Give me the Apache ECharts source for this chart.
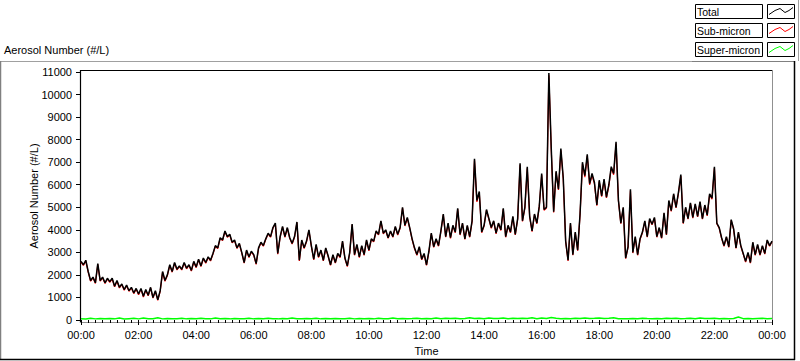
<!DOCTYPE html>
<html>
<head>
<meta charset="utf-8">
<script src="https://cdn.jsdelivr.net/npm/echarts@6/dist/echarts.min.js"></script>
<style>
html,body{margin:0;padding:0;background:#fff;}
#chart{width:800px;height:361px;}
</style>
</head>
<body>
<div id="chart"></div>
<script>
// Sampling: Total & Sub-micron every 5 minutes, Super-micron every 10 minutes (00:00 .. 24:00)
const totalStepMin = 5;
const superStepMin = 10;
const xTickLabels = ['00:00','02:00','04:00','06:00','08:00','10:00','12:00','14:00','16:00','18:00','20:00','22:00','00:00'];
const seriesNames = ['Total','Sub-micron','Super-micron'];

const totalValues = [
2600,2450,2650,2150,1750,1900,1650,2500,1750,1900,1650,1850,
1700,1850,1500,1750,1450,1600,1350,1550,1300,1450,1200,1400,
1150,1400,1050,1350,1100,1450,1000,1300,900,1300,2150,1750,
2000,2450,2150,2550,2250,2400,2250,2550,2300,2450,2200,2600,
2350,2700,2400,2750,2550,2800,2650,2950,3300,3200,3650,3550,
3950,3700,3800,3450,3550,3200,3400,3000,2550,3100,2800,3050,
2900,2500,3200,3450,3300,3600,3850,3700,4100,4300,2950,3700,
4150,3700,4100,3650,3400,3700,4350,2650,3550,3200,3500,4000,
3300,2700,3350,2800,3100,2650,3200,2850,2450,2900,2550,2950,
2800,3500,2750,2400,3000,4250,2900,3350,2800,3300,2900,3550,
3100,3600,3500,3950,3800,4400,3850,4000,3650,3950,3700,4150,
3800,4100,5000,4200,4550,4100,3600,3200,2900,3250,2700,2950,
2450,3050,3850,3250,3600,3300,3950,4700,3700,4300,3650,4200,
3900,4950,3800,4300,3600,4200,3700,4400,7150,5300,5700,3900,
4200,4900,4500,4100,4400,3850,4300,4000,4950,3700,4200,3900,
4600,3800,4500,6950,4400,5000,6800,4600,3950,4700,4300,5050,
6500,4900,5000,10950,7600,4800,6600,5800,7600,6300,3500,2650,
4300,2900,3900,3100,4700,7000,6400,7350,6050,6500,6100,5100,
6200,5500,6250,5450,6000,6800,6500,7900,5300,4300,5000,2750,
3250,5800,3000,3700,2900,3600,3900,4400,3700,4500,4250,4550,
3700,4100,3650,4750,3800,5300,4850,5600,5000,5650,6450,4300,
5000,4500,5200,4550,5150,4600,5250,4500,5100,4650,5600,5400,
6800,4300,4100,3650,3300,3700,3250,4450,4050,3200,3900,3300,
2950,2600,3000,2550,3450,2900,3350,2900,3300,2950,3550,3300,
3500
];

const subMicronValues = [
2570,2420,2620,2120,1720,1870,1620,2470,1720,1870,1620,1820,
1670,1820,1470,1720,1420,1570,1320,1520,1270,1420,1170,1370,
1120,1370,1020,1320,1070,1420,970,1270,870,1270,2120,1720,
1970,2420,2120,2520,2220,2370,2220,2520,2270,2420,2170,2570,
2320,2670,2370,2720,2520,2770,2620,2920,3270,3170,3620,3520,
3920,3670,3770,3420,3520,3170,3370,2970,2520,3070,2770,3020,
2870,2470,3170,3420,3270,3570,3820,3670,4070,4270,2920,3670,
4120,3670,4070,3620,3370,3670,4320,2620,3520,3170,3470,3970,
3270,2670,3320,2770,3070,2620,3170,2820,2420,2870,2520,2920,
2770,3470,2720,2370,2970,4220,2870,3320,2770,3270,2870,3520,
3070,3570,3470,3920,3770,4370,3820,3970,3620,3920,3670,4120,
3770,4070,4970,4170,4520,4070,3570,3170,2870,3220,2670,2920,
2420,3020,3820,3220,3570,3270,3920,4670,3670,4270,3620,4170,
3870,4920,3770,4270,3570,4170,3670,4370,7080,5240,5640,3870,
4170,4870,4470,4070,4370,3820,4270,3970,4920,3670,4170,3870,
4570,3770,4470,6880,4370,4970,6730,4570,3920,4670,4270,5020,
6440,4870,4970,10850,7530,4770,6540,5770,7530,6240,3470,2620,
4270,2870,3870,3070,4670,6930,6340,7280,5990,6440,6040,5070,
6140,5470,6190,5420,5940,6740,6440,7830,5270,4270,4970,2720,
3220,5740,2970,3670,2870,3570,3870,4370,3670,4470,4220,4520,
3670,4070,3620,4720,3770,5260,4820,5560,4970,5610,6390,4270,
4970,4470,5170,4520,5120,4570,5220,4470,5070,4620,5560,5360,
6740,4270,4070,3620,3270,3670,3220,4420,4020,3170,3870,3270,
2920,2570,2970,2520,3420,2870,3320,2870,3270,2920,3520,3270,
3470
];

const superMicronValues = [
60,45,80,50,70,55,
65,50,90,45,60,75,
50,85,55,60,100,50,
70,55,60,80,50,65,
55,75,60,50,85,60,
65,50,70,55,60,80,
50,65,55,75,60,50,
70,55,85,60,50,65,
60,75,50,65,55,70,
55,60,80,50,70,60,
65,50,75,60,55,90,
60,70,55,65,80,55,
70,60,85,55,75,65,
80,60,70,95,65,75,
60,85,70,65,90,60,
75,65,80,70,95,60,
85,70,110,75,60,70,
55,80,65,90,70,75,
85,65,75,95,60,55,
60,70,55,75,65,60,
70,60,80,65,75,60,
65,75,60,85,70,65,
75,60,70,55,65,130,
60,70,55,65,75,60,
65
];

const seriesColors = ['#000000','#ff0000','#00ff00'];

function toPairs(values, stepMin){
  return values.map((v, i) => [i * stepMin / 60, v]);
}

const FONT = 'Liberation Sans, Arial, sans-serif';
const chart = echarts.init(document.getElementById('chart'), null, {renderer:'svg'});

// legend graphic (boxes like the original)
const legendGraphic = [];
seriesNames.forEach((name, k) => {
  const y = 4.5 + k * 19;
  legendGraphic.push({type:'rect', shape:{x:695.5, y:y, width:67, height:14}, style:{fill:'#fff', stroke:'#000', lineWidth:1}, z:10});
  legendGraphic.push({type:'text', x:697, y:y+7.5, style:{text:name, fill:'#000', font:'10.5px ' + FONT, textVerticalAlign:'middle', verticalAlign:'middle'}, z:11});
  legendGraphic.push({type:'rect', shape:{x:767.5, y:y, width:27, height:14}, style:{fill:'#fff', stroke:'#000', lineWidth:1}, z:10});
  legendGraphic.push({type:'polyline', shape:{points:[[769,y+10],[775,y+6],[780,y+4],[785,y+8],[789,y+6],[793,y+3]]}, style:{stroke:seriesColors[k], lineWidth:1, fill:null}, z:11});
});

const frameGraphic = [
  // outer panel
  {type:'line', shape:{x1:0, y1:61.5, x2:692, y2:61.5}, style:{stroke:'#a0a0a0', lineWidth:1}},
  {type:'line', shape:{x1:692, y1:61.5, x2:795, y2:61.5}, style:{stroke:'#808080', lineWidth:1}},
  {type:'line', shape:{x1:0.5, y1:61, x2:0.5, y2:360}, style:{stroke:'#808080', lineWidth:1.5}},
  {type:'line', shape:{x1:0, y1:359.5, x2:795, y2:359.5}, style:{stroke:'#000', lineWidth:1.5}},
  {type:'line', shape:{x1:794.5, y1:61, x2:794.5, y2:360}, style:{stroke:'#000', lineWidth:1.5}},
  {type:'line', shape:{x1:798.5, y1:0, x2:798.5, y2:61}, style:{stroke:'#a0a0a0', lineWidth:1}},
  // plot frame
  {type:'line', shape:{x1:80, y1:70.5, x2:773, y2:70.5}, style:{stroke:'#000', lineWidth:1.2}},
  {type:'line', shape:{x1:80.5, y1:70, x2:80.5, y2:323}, style:{stroke:'#000', lineWidth:1.2}},
  {type:'line', shape:{x1:772.5, y1:70, x2:772.5, y2:323}, style:{stroke:'#909090', lineWidth:1}},
  {type:'line', shape:{x1:80, y1:322.5, x2:773, y2:322.5}, style:{stroke:'#909090', lineWidth:1.2}},
  // panel title
  {type:'text', x:4, y:50, style:{text:'Aerosol Number (#/L)', fill:'#000', font:'11px ' + FONT, textVerticalAlign:'middle', verticalAlign:'middle'}}
];

const option = {
  backgroundColor:'#ffffff',
  animation:false,
  textStyle:{fontFamily:FONT},
  grid:{left:81, top:72, width:691, height:250, containLabel:false},
  xAxis:{
    type:'value', min:0, max:24, interval:2,
    axisLine:{show:false},
    axisTick:{show:true, length:5, lineStyle:{color:'#000'}},
    minorTick:{show:true, splitNumber:8, length:3, lineStyle:{color:'#000'}},
    splitLine:{show:false},
    axisLabel:{color:'#000', fontSize:11, fontFamily:FONT, margin:9,
      formatter:function(v){ return xTickLabels[Math.round(v/2)]; }},
    name:'Time', nameLocation:'middle', nameGap:25,
    nameTextStyle:{color:'#000', fontSize:11, fontFamily:FONT}
  },
  yAxis:{
    type:'value', min:0, max:11000, interval:1000,
    axisLine:{show:false},
    axisTick:{show:true, length:5, lineStyle:{color:'#000'}},
    splitLine:{show:false},
    axisLabel:{color:'#000', fontSize:11, fontFamily:FONT, margin:9,
      formatter:function(v){ return String(v); }},
    name:'Aerosol Number (#/L)', nameLocation:'middle', nameGap:42, nameRotate:90,
    nameMoveOverlap:false,
    nameTextStyle:{color:'#000', fontSize:11, fontFamily:FONT}
  },
  series:[
    {name:seriesNames[2], type:'line', data:toPairs(superMicronValues, superStepMin), showSymbol:false, symbol:'none',
      lineStyle:{color:seriesColors[2], width:1.5}, z:3},
    {name:seriesNames[1], type:'line', data:toPairs(subMicronValues, totalStepMin), showSymbol:false, symbol:'none',
      lineStyle:{color:seriesColors[1], width:1.2}, z:4},
    {name:seriesNames[0], type:'line', data:toPairs(totalValues, totalStepMin), showSymbol:false, symbol:'none',
      lineStyle:{color:seriesColors[0], width:1.5}, z:5}
  ],
  graphic:{elements: frameGraphic.concat(legendGraphic)}
};
chart.setOption(option);
</script>
</body>
</html>
